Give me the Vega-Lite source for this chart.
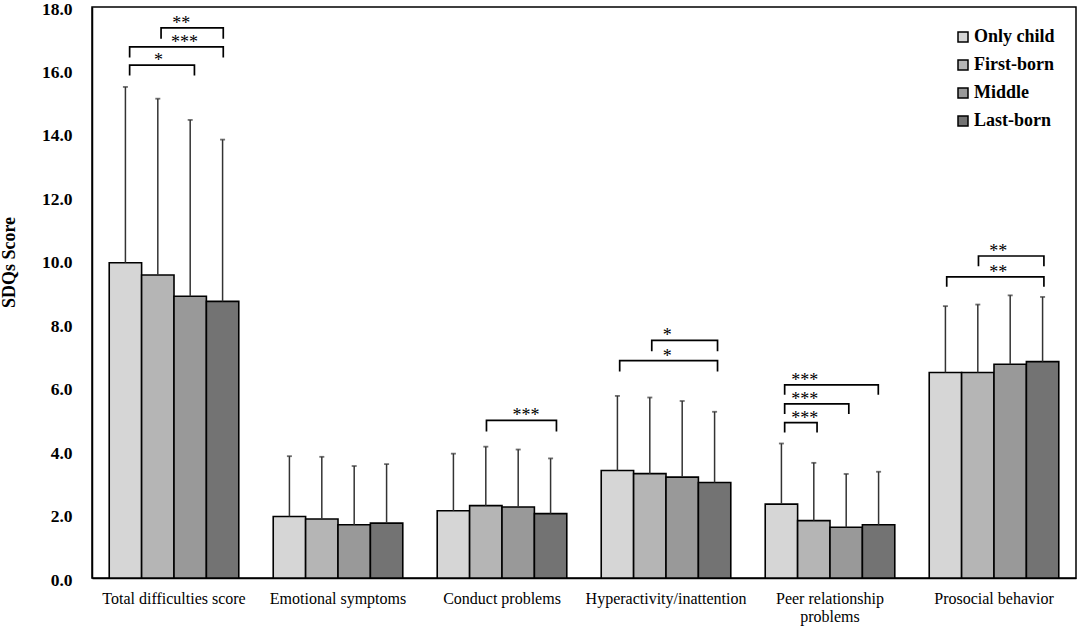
{
  "$schema": "https://vega.github.io/schema/vega-lite/v6.json",
  "autosize": {"type": "none"},
  "padding": {"left": 92, "top": 7, "right": 8, "bottom": 50},
  "width": 984,
  "height": 571,
  "background": "white",
  "config": {
    "font": "Liberation Serif",
    "view": {"stroke": "black", "strokeWidth": 1.5},
    "axis": {"grid": false, "ticks": false, "domainColor": "black", "domainWidth": 1.5, "labelColor": "black", "titleColor": "black"},
    "legend": {"symbolType": "square", "symbolSize": 100, "symbolStrokeColor": "black", "symbolStrokeWidth": 1.5, "labelFontSize": 18, "labelFontWeight": "bold", "labelColor": "black", "labelOffset": 2, "rowPadding": 10, "padding": 0}
  },
  "datasets": {
    "bars": [
      {"domain": "Total difficulties score", "group": "Only child", "mean": 9.94, "upper": 15.48},
      {"domain": "Total difficulties score", "group": "First-born", "mean": 9.55, "upper": 15.11},
      {"domain": "Total difficulties score", "group": "Middle", "mean": 8.88, "upper": 14.44},
      {"domain": "Total difficulties score", "group": "Last-born", "mean": 8.72, "upper": 13.82},
      {"domain": "Emotional symptoms", "group": "Only child", "mean": 1.94, "upper": 3.84},
      {"domain": "Emotional symptoms", "group": "First-born", "mean": 1.86, "upper": 3.82},
      {"domain": "Emotional symptoms", "group": "Middle", "mean": 1.68, "upper": 3.53},
      {"domain": "Emotional symptoms", "group": "Last-born", "mean": 1.73, "upper": 3.59},
      {"domain": "Conduct problems", "group": "Only child", "mean": 2.12, "upper": 3.92},
      {"domain": "Conduct problems", "group": "First-born", "mean": 2.28, "upper": 4.14},
      {"domain": "Conduct problems", "group": "Middle", "mean": 2.24, "upper": 4.05},
      {"domain": "Conduct problems", "group": "Last-born", "mean": 2.03, "upper": 3.77},
      {"domain": "Hyperactivity/inattention", "group": "Only child", "mean": 3.39, "upper": 5.74},
      {"domain": "Hyperactivity/inattention", "group": "First-born", "mean": 3.29, "upper": 5.69},
      {"domain": "Hyperactivity/inattention", "group": "Middle", "mean": 3.18, "upper": 5.58},
      {"domain": "Hyperactivity/inattention", "group": "Last-born", "mean": 3.01, "upper": 5.24},
      {"domain": "Peer relationship problems", "group": "Only child", "mean": 2.33, "upper": 4.24},
      {"domain": "Peer relationship problems", "group": "First-born", "mean": 1.81, "upper": 3.63},
      {"domain": "Peer relationship problems", "group": "Middle", "mean": 1.60, "upper": 3.28},
      {"domain": "Peer relationship problems", "group": "Last-born", "mean": 1.68, "upper": 3.35},
      {"domain": "Prosocial behavior", "group": "Only child", "mean": 6.48, "upper": 8.57},
      {"domain": "Prosocial behavior", "group": "First-born", "mean": 6.48, "upper": 8.62},
      {"domain": "Prosocial behavior", "group": "Middle", "mean": 6.74, "upper": 8.91},
      {"domain": "Prosocial behavior", "group": "Last-born", "mean": 6.82, "upper": 8.86}
    ],
    "brackets": [
      {"domain": "Total difficulties score", "id": "t1", "k": 1, "pos": 1.6, "y": 17.0},
      {"domain": "Total difficulties score", "id": "t1", "k": 2, "pos": 1.6, "y": 17.34},
      {"domain": "Total difficulties score", "id": "t1", "k": 3, "pos": 3.52, "y": 17.34},
      {"domain": "Total difficulties score", "id": "t1", "k": 4, "pos": 3.52, "y": 17.0},
      {"domain": "Total difficulties score", "id": "t2", "k": 1, "pos": 0.63, "y": 16.41},
      {"domain": "Total difficulties score", "id": "t2", "k": 2, "pos": 0.63, "y": 16.74},
      {"domain": "Total difficulties score", "id": "t2", "k": 3, "pos": 3.52, "y": 16.74},
      {"domain": "Total difficulties score", "id": "t2", "k": 4, "pos": 3.52, "y": 16.41},
      {"domain": "Total difficulties score", "id": "t3", "k": 1, "pos": 0.63, "y": 15.84},
      {"domain": "Total difficulties score", "id": "t3", "k": 2, "pos": 0.63, "y": 16.17},
      {"domain": "Total difficulties score", "id": "t3", "k": 3, "pos": 2.63, "y": 16.17},
      {"domain": "Total difficulties score", "id": "t3", "k": 4, "pos": 2.63, "y": 15.84},
      {"domain": "Conduct problems", "id": "c1", "k": 1, "pos": 1.52, "y": 4.62},
      {"domain": "Conduct problems", "id": "c1", "k": 2, "pos": 1.52, "y": 4.97},
      {"domain": "Conduct problems", "id": "c1", "k": 3, "pos": 3.68, "y": 4.97},
      {"domain": "Conduct problems", "id": "c1", "k": 4, "pos": 3.68, "y": 4.62},
      {"domain": "Hyperactivity/inattention", "id": "h1", "k": 1, "pos": 1.56, "y": 7.15},
      {"domain": "Hyperactivity/inattention", "id": "h1", "k": 2, "pos": 1.56, "y": 7.49},
      {"domain": "Hyperactivity/inattention", "id": "h1", "k": 3, "pos": 3.59, "y": 7.49},
      {"domain": "Hyperactivity/inattention", "id": "h1", "k": 4, "pos": 3.59, "y": 7.15},
      {"domain": "Hyperactivity/inattention", "id": "h2", "k": 1, "pos": 0.57, "y": 6.51},
      {"domain": "Hyperactivity/inattention", "id": "h2", "k": 2, "pos": 0.57, "y": 6.85},
      {"domain": "Hyperactivity/inattention", "id": "h2", "k": 3, "pos": 3.59, "y": 6.85},
      {"domain": "Hyperactivity/inattention", "id": "h2", "k": 4, "pos": 3.59, "y": 6.51},
      {"domain": "Peer relationship problems", "id": "p1", "k": 1, "pos": 0.6, "y": 5.78},
      {"domain": "Peer relationship problems", "id": "p1", "k": 2, "pos": 0.6, "y": 6.09},
      {"domain": "Peer relationship problems", "id": "p1", "k": 3, "pos": 3.49, "y": 6.09},
      {"domain": "Peer relationship problems", "id": "p1", "k": 4, "pos": 3.49, "y": 5.78},
      {"domain": "Peer relationship problems", "id": "p2", "k": 1, "pos": 0.6, "y": 5.17},
      {"domain": "Peer relationship problems", "id": "p2", "k": 2, "pos": 0.6, "y": 5.49},
      {"domain": "Peer relationship problems", "id": "p2", "k": 3, "pos": 2.58, "y": 5.49},
      {"domain": "Peer relationship problems", "id": "p2", "k": 4, "pos": 2.58, "y": 5.17},
      {"domain": "Peer relationship problems", "id": "p3", "k": 1, "pos": 0.6, "y": 4.59},
      {"domain": "Peer relationship problems", "id": "p3", "k": 2, "pos": 0.6, "y": 4.90},
      {"domain": "Peer relationship problems", "id": "p3", "k": 3, "pos": 1.6, "y": 4.90},
      {"domain": "Peer relationship problems", "id": "p3", "k": 4, "pos": 1.6, "y": 4.59},
      {"domain": "Prosocial behavior", "id": "s1", "k": 1, "pos": 1.52, "y": 9.83},
      {"domain": "Prosocial behavior", "id": "s1", "k": 2, "pos": 1.52, "y": 10.15},
      {"domain": "Prosocial behavior", "id": "s1", "k": 3, "pos": 3.54, "y": 10.15},
      {"domain": "Prosocial behavior", "id": "s1", "k": 4, "pos": 3.54, "y": 9.83},
      {"domain": "Prosocial behavior", "id": "s2", "k": 1, "pos": 0.54, "y": 9.18},
      {"domain": "Prosocial behavior", "id": "s2", "k": 2, "pos": 0.54, "y": 9.49},
      {"domain": "Prosocial behavior", "id": "s2", "k": 3, "pos": 3.54, "y": 9.49},
      {"domain": "Prosocial behavior", "id": "s2", "k": 4, "pos": 3.54, "y": 9.18}
    ],
    "labels": [
      {"domain": "Total difficulties score", "pos": 2.22, "y": 17.34, "label": "**"},
      {"domain": "Total difficulties score", "pos": 2.32, "y": 16.74, "label": "***"},
      {"domain": "Total difficulties score", "pos": 1.52, "y": 16.17, "label": "*"},
      {"domain": "Conduct problems", "pos": 2.74, "y": 4.97, "label": "***"},
      {"domain": "Hyperactivity/inattention", "pos": 2.04, "y": 7.49, "label": "*"},
      {"domain": "Hyperactivity/inattention", "pos": 2.04, "y": 6.85, "label": "*"},
      {"domain": "Peer relationship problems", "pos": 1.22, "y": 6.09, "label": "***"},
      {"domain": "Peer relationship problems", "pos": 1.22, "y": 5.49, "label": "***"},
      {"domain": "Peer relationship problems", "pos": 1.22, "y": 4.90, "label": "***"},
      {"domain": "Prosocial behavior", "pos": 2.13, "y": 10.15, "label": "**"},
      {"domain": "Prosocial behavior", "pos": 2.13, "y": 9.49, "label": "**"}
    ]
  },
  "encoding": {
    "x": {
      "field": "domain", "type": "nominal",
      "sort": ["Total difficulties score", "Emotional symptoms", "Conduct problems", "Hyperactivity/inattention", "Peer relationship problems", "Prosocial behavior"],
      "scale": {"paddingInner": 0.21, "paddingOuter": 0.105},
      "axis": {"title": null, "labelAngle": 0, "labelFontSize": 16, "labelPadding": 12, "labelLineHeight": 18, "labelBaseline": "top",
        "labelExpr": "datum.label == 'Peer relationship problems' ? ['Peer relationship', 'problems'] : datum.label"}
    }
  },
  "layer": [
    {
      "data": {"name": "bars"},
      "mark": {"type": "bar", "stroke": "black", "strokeWidth": 1.6},
      "encoding": {
        "xOffset": {"field": "group", "type": "nominal", "sort": ["Only child", "First-born", "Middle", "Last-born"], "scale": {"paddingInner": 0, "paddingOuter": 0}},
        "y": {"field": "mean", "type": "quantitative", "scale": {"domain": [0, 18]},
          "axis": {"title": "SDQs Score", "values": [0, 2, 4, 6, 8, 10, 12, 14, 16, 18], "format": ".1f", "labelFontSize": 17.5, "labelFontWeight": "bold", "labelPadding": 20, "labelOffset": 2,
            "titleFontSize": 18, "titleFontWeight": "bold", "titleX": -83, "titleY": 255, "titleAngle": -90, "titleAlign": "center", "titleBaseline": "middle"}},
        "color": {"field": "group", "type": "nominal", "sort": ["Only child", "First-born", "Middle", "Last-born"],
          "scale": {"domain": ["Only child", "First-born", "Middle", "Last-born"], "range": ["#d6d6d6", "#b5b5b5", "#999999", "#737373"]},
          "legend": {"title": null, "orient": "none", "legendX": 862, "legendY": 21}}
      }
    },
    {
      "data": {"name": "bars"},
      "mark": {"type": "rule", "color": "#333333", "strokeWidth": 1.5},
      "encoding": {
        "xOffset": {"field": "group", "type": "nominal", "sort": ["Only child", "First-born", "Middle", "Last-born"], "scale": {"paddingInner": 0, "paddingOuter": 0}},
        "y": {"field": "mean", "type": "quantitative"},
        "y2": {"field": "upper"}
      }
    },
    {
      "data": {"name": "bars"},
      "mark": {"type": "tick", "color": "#333333", "size": 5, "thickness": 1.8, "orient": "horizontal"},
      "encoding": {
        "xOffset": {"field": "group", "type": "nominal", "sort": ["Only child", "First-born", "Middle", "Last-born"], "scale": {"paddingInner": 0, "paddingOuter": 0}},
        "y": {"field": "upper", "type": "quantitative"}
      }
    },
    {
      "data": {"name": "brackets"},
      "mark": {"type": "line", "color": "black", "strokeWidth": 1.7},
      "encoding": {
        "xOffset": {"field": "pos", "type": "quantitative", "scale": {"domain": [0, 4], "range": [0, 129.6]}},
        "y": {"field": "y", "type": "quantitative"},
        "detail": {"field": "id"},
        "order": {"field": "k"}
      }
    },
    {
      "data": {"name": "labels"},
      "mark": {"type": "text", "fontSize": 18, "align": "center", "baseline": "alphabetic", "color": "black", "dy": 1},
      "encoding": {
        "xOffset": {"field": "pos", "type": "quantitative", "scale": {"domain": [0, 4], "range": [0, 129.6]}},
        "y": {"field": "y", "type": "quantitative"},
        "text": {"field": "label"}
      }
    }
  ],
  "resolve": {"scale": {"xOffset": "independent"}}
}
